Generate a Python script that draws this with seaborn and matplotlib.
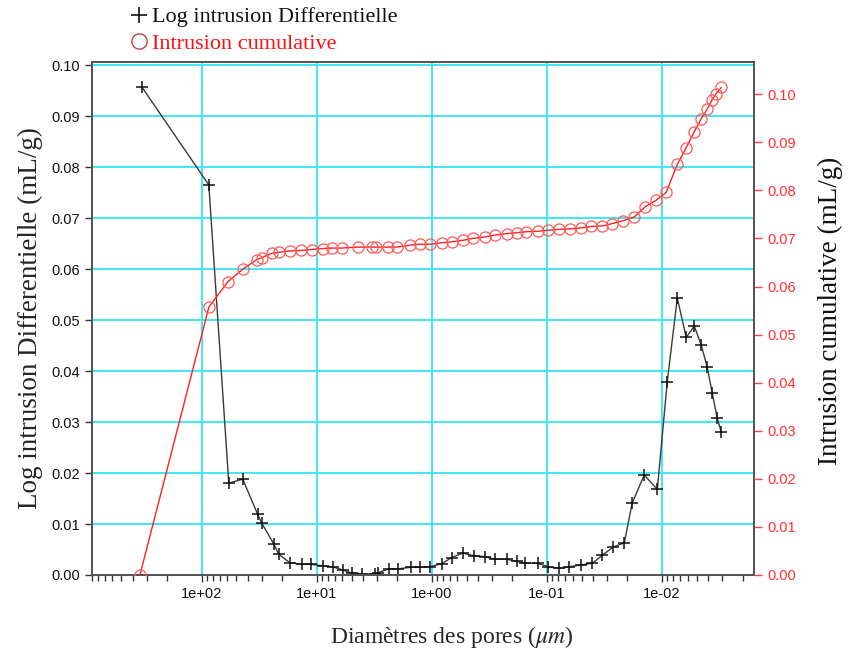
import numpy as np
import pandas as pd
import matplotlib
matplotlib.use("Agg")
import matplotlib.pyplot as plt
import seaborn as sns
from matplotlib.ticker import LogLocator, FuncFormatter, MultipleLocator, NullFormatter
from matplotlib.lines import Line2D

# ---- data ----
diam_diff = [332, 86.9, 58.3, 44.1, 32.7, 30.2, 23.7, 21.5, 17.2, 13.6, 11.3, 8.91, 7.30,
             5.97, 4.99, 4.08, 3.15, 2.97, 2.38, 1.99, 1.53, 1.28, 1.05, 0.826, 0.676,
             0.542, 0.435, 0.349, 0.286, 0.225, 0.184, 0.154, 0.121, 0.0972, 0.078, 0.064,
             0.0503, 0.0403, 0.0330, 0.0265, 0.0213, 0.0182, 0.0143, 0.0110, 0.00902,
             0.00738, 0.00617, 0.00525, 0.00457, 0.00405, 0.00367, 0.00332, 0.00306]
log_diff = [0.0957, 0.0765, 0.0180, 0.0188, 0.0119, 0.0102, 0.0061, 0.0041, 0.0024, 0.0021,
            0.0021, 0.0018, 0.0016, 0.0010, 0.0004, 0.0002, 0.0002, 0.0004, 0.0012, 0.0012,
            0.0015, 0.0015, 0.0016, 0.0022, 0.0034, 0.0043, 0.0038, 0.0036, 0.0031, 0.0031,
            0.0027, 0.0023, 0.0023, 0.0016, 0.0013, 0.0016, 0.0020, 0.0023, 0.0039, 0.0055,
            0.0063, 0.0141, 0.0196, 0.0168, 0.0379, 0.0543, 0.0466, 0.0488, 0.0451, 0.0407,
            0.0357, 0.0308, 0.0280]

diam_cum = [345, 86.9, 59.4, 44.1, 33.3, 30.2, 24.7, 21.5, 17.2, 13.8, 11.1, 8.91, 7.44,
            6.10, 4.43, 3.34, 3.09, 2.43, 2.03, 1.56, 1.28, 1.03, 0.826, 0.676, 0.542,
            0.444, 0.349, 0.281, 0.225, 0.184, 0.151, 0.121, 0.0972, 0.078, 0.0627, 0.0503,
            0.0412, 0.0330, 0.0271, 0.0217, 0.0174, 0.0140, 0.0112, 0.00920, 0.00738,
            0.00617, 0.00525, 0.00457, 0.00405, 0.00367, 0.00339, 0.00306]
cum_intr = [0.0, 0.0557, 0.0610, 0.0636, 0.0656, 0.0660, 0.0669, 0.0671, 0.0674, 0.0675,
            0.0677, 0.0679, 0.0680, 0.0680, 0.0682, 0.0682, 0.0682, 0.0682, 0.0682, 0.0686,
            0.0688, 0.0688, 0.0691, 0.0693, 0.0696, 0.0700, 0.0703, 0.0707, 0.0710, 0.0712,
            0.0714, 0.0715, 0.0717, 0.0719, 0.0720, 0.0722, 0.0725,
            0.0726, 0.0731, 0.0737, 0.0745, 0.0766, 0.0780, 0.0796, 0.0854, 0.0889, 0.0922,
            0.0949, 0.0969, 0.0989, 0.1001, 0.1014]

legend_labels = ["Log intrusion Differentielle", "Intrusion cumulative"]

df_diff = pd.DataFrame({"d": diam_diff, "v": log_diff})
df_cum = pd.DataFrame({"d": diam_cum, "v": cum_intr})

sns.set_style("ticks")
plt.rcParams["font.family"] = ["Liberation Sans", "DejaVu Sans"]
plt.rcParams["mathtext.fontset"] = "stix"

W, H = 851, 652
fig = plt.figure(figsize=(W / 100, H / 100), dpi=100)
ax = fig.add_axes([92 / W, 1 - 575 / H, (754 - 92) / W, (575 - 62) / H])
ax2 = ax.twinx()

sns.lineplot(data=df_diff, x="d", y="v", ax=ax, color="#3a3a3a", lw=1.0,
             marker="+", markersize=8, markeredgewidth=1.1, markeredgecolor="#111111",
             sort=False, estimator=None, zorder=3)
sns.lineplot(data=df_cum, x="d", y="v", ax=ax2, color="#ff2020", lw=1.0,
             marker="o", markersize=8, markerfacecolor="none", markeredgecolor="#ff5a5a",
             markeredgewidth=0.9, sort=False, estimator=None, zorder=3)

ax.set_xscale("log")
ax.set_xlim(900, 0.00159)
ax.xaxis.set_major_locator(LogLocator(base=10, numticks=20))
ax.xaxis.set_minor_locator(LogLocator(base=10, subs=np.arange(2, 10), numticks=200))
ax.xaxis.set_major_formatter(FuncFormatter(lambda v, p: f"{v:.0e}"))
ax.xaxis.set_minor_formatter(NullFormatter())

ax.set_ylim(0, 0.1006)
ax.yaxis.set_major_locator(MultipleLocator(0.01))
ax.yaxis.set_major_formatter(FuncFormatter(lambda v, p: f"{v:.2f}"))
ax2.set_ylim(0, 0.1067)
ax2.yaxis.set_major_locator(MultipleLocator(0.01))
ax2.yaxis.set_major_formatter(FuncFormatter(lambda v, p: f"{v:.2f}"))

ax.set_axisbelow(True)
ax.grid(True, which="major", color="#3ee8f2", lw=1.4)
ax.grid(False, which="minor")
ax2.grid(False)

for a in (ax, ax2):
    for s in a.spines.values():
        s.set_color("#555555")
        s.set_linewidth(1.4)
        s.set_visible(True)

ax.tick_params(axis="both", which="major", labelsize=10.5, length=5, width=1, color="#333333",
               labelcolor="#111111", direction="out")
ax.tick_params(axis="x", which="minor", length=4, width=1, color="#333333")
ax2.tick_params(axis="y", which="major", labelsize=10.5, length=6, width=1, color="#ff4040",
                labelcolor="#ff3030", direction="out")

serif = ["Liberation Serif", "DejaVu Serif"]
ax.set_xlabel(r"Diamètres des pores ($\mu m$)", family=serif, fontsize=17)
ax.xaxis.set_label_coords((452 - 92) / 662, -(624 - 575) / 513)
ax.set_ylabel("Log intrusion Differentielle (mL/g)", family=serif, fontsize=19.5, labelpad=6)
ax2.set_ylabel("Intrusion cumulative (mL/g)", family=serif, fontsize=19.5, color="#111111")
ax2.yaxis.set_label_coords(1 + (818 - 754) / 662, (575 - 311) / 513)

handles = [Line2D([], [], ls="none", marker="+", color="#111111", ms=11, mew=1.2),
           Line2D([], [], ls="none", marker="o", mfc="none", mec="#c04040", ms=11, mew=1.0)]
leg = fig.legend(handles=handles, labels=legend_labels, loc="upper left",
                 bbox_to_anchor=(121 / W, 1 + 2 / H), frameon=False,
                 prop={"family": serif, "size": 16}, handlelength=0.8,
                 handletextpad=0.2, labelspacing=0.25, borderaxespad=0)
leg.get_texts()[0].set_color("#111111")
leg.get_texts()[1].set_color("#ff1010")

fig.savefig("out.png", dpi=100)
